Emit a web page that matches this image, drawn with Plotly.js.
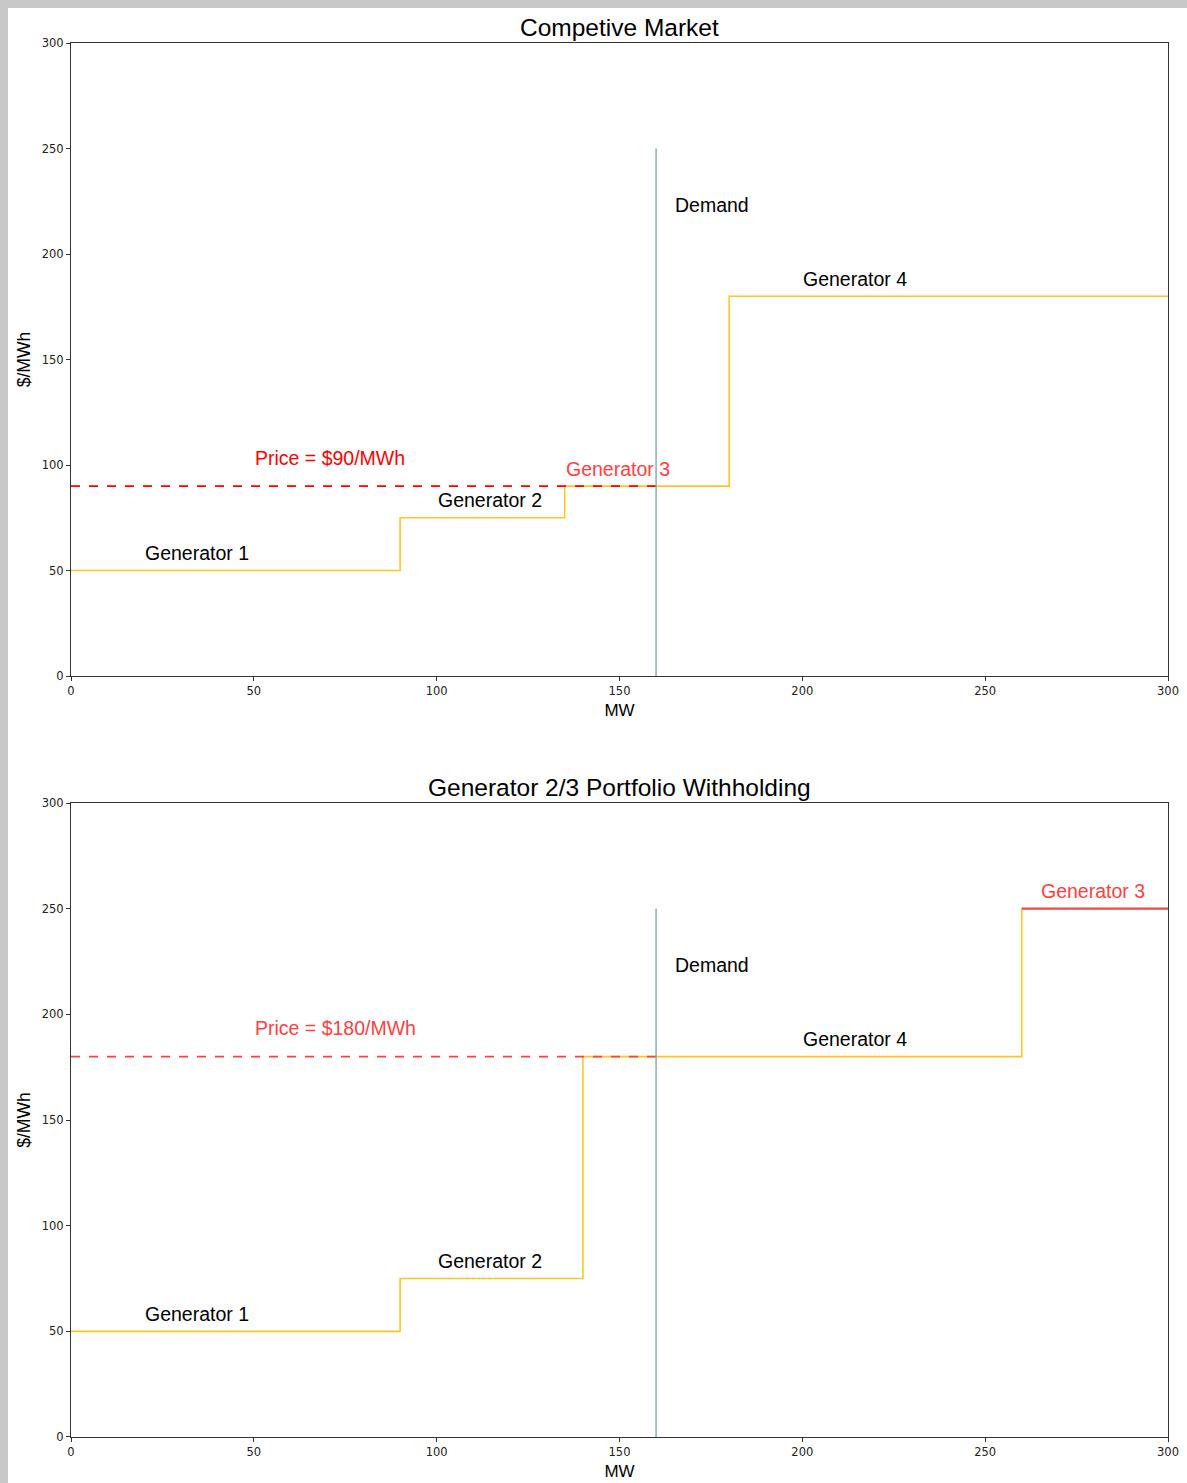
<!DOCTYPE html>
<html>
<head>
<meta charset="utf-8">
<script src="https://cdn.plot.ly/plotly-3.0.1.min.js"></script>
<style>
html,body{margin:0;padding:0;background:#c8c8c8;}
#chart{position:absolute;left:8px;top:8px;width:1179px;height:1475px;background:#fff;}
</style>
</head>
<body>
<div id="chart"></div>
<script>
// Panel 1: competitive market supply curve (step: MW breakpoints, $/MWh)
const comp_mw = [0, 90, 135, 180, 300];
const comp_price = [50, 75, 90, 180, 180];
// Panel 2: withholding supply curve
const with_mw = [0, 90, 140, 260];
const with_price = [50, 75, 180, 250];
const with_gen3_mw = [260, 300];
const with_gen3_price = [250, 250];
// Demand
const demand_mw = 160;
const demand_top = 250;
// Clearing prices
const comp_clear = 90;
const with_clear = 180;
// Labels [text, x, y]
const comp_labels = [["Generator 1", 20, 55], ["Generator 2", 100, 80], ["Generator 3", 135, 95], ["Generator 4", 200, 185], ["Demand", 165, 220], ["Price = $90/MWh", 50, 100]];
const with_labels = [["Generator 1", 20, 55], ["Generator 2", 100, 80], ["Generator 3", 265, 255], ["Generator 4", 200, 185], ["Demand", 165, 220], ["Price = $180/MWh", 50, 190]];
const titles = ["Competive Market", "Generator 2/3 Portfolio Withholding"];
const xTicks = [0, 50, 100, 150, 200, 250, 300];
const yTicks = [0, 50, 100, 150, 200, 250, 300];

const YEL = "#ffc425", TEAL = "#7fa8b0";
const traces = [
  {x: comp_mw, y: comp_price, mode: "lines", line: {shape: "hv", color: YEL, width: 1.6}, xaxis: "x", yaxis: "y"},
  {x: [0, demand_mw], y: [comp_clear, comp_clear], mode: "lines", line: {color: "#ff0000", width: 1.6, dash: "dash"}, xaxis: "x", yaxis: "y"},
  {x: [demand_mw, demand_mw], y: [0, demand_top], mode: "lines", line: {color: TEAL, width: 1.4}, xaxis: "x", yaxis: "y"},
  {x: with_mw, y: with_price, mode: "lines", line: {shape: "hv", color: YEL, width: 1.6}, xaxis: "x2", yaxis: "y2"},
  {x: with_gen3_mw, y: with_gen3_price, mode: "lines", line: {color: "#ff4040", width: 2.2}, xaxis: "x2", yaxis: "y2"},
  {x: [0, demand_mw], y: [with_clear, with_clear], mode: "lines", line: {color: "#ff4040", width: 1.6, dash: "dash"}, xaxis: "x2", yaxis: "y2"},
  {x: [demand_mw, demand_mw], y: [0, demand_top], mode: "lines", line: {color: TEAL, width: 1.4}, xaxis: "x2", yaxis: "y2"}
];

function labelAnn(l, xr, yr, panel) {
  let color = "#000";
  if (l[0].startsWith("Price")) color = panel === 1 ? "#ff0000" : "#ff4040";
  if (l[0] === "Generator 3") color = "#ff4040";
  return {text: l[0], x: l[1], y: l[2], xref: xr, yref: yr, xanchor: "left", yanchor: "bottom",
    showarrow: false, yshift: -6, xshift: -1, font: {family: "Liberation Sans, Arial", size: 19.5, color: color}};
}
const anns = [];
comp_labels.forEach(l => anns.push(labelAnn(l, "x", "y", 1)));
with_labels.forEach(l => anns.push(labelAnn(l, "x2", "y2", 2)));
anns.push({text: titles[0], xref: "paper", yref: "paper", x: 0.5, y: 1, yanchor: "bottom", yshift: 0, showarrow: false,
  font: {family: "Liberation Sans, Arial", size: 24.5, color: "#000"}});
anns.push({text: titles[1], xref: "paper", yref: "paper", x: 0.5, y: 0.4548, yanchor: "bottom", yshift: 0, showarrow: false,
  font: {family: "Liberation Sans, Arial", size: 24.5, color: "#000"}});

function xa(anchor) {
  return {range: [0, 300], tickvals: xTicks, ticks: "outside", ticklen: 4, tickcolor: "#333", showgrid: false, zeroline: false,
    showline: true, mirror: true, linecolor: "#333", linewidth: 1, anchor: anchor,
    tickfont: {family: "DejaVu Sans", size: 11.5, color: "#222"},
    title: {text: "MW", font: {family: "Liberation Sans, Arial", size: 17, color: "#000"}, standoff: 7}};
}
function ya(domain, anchor) {
  return {range: [0, 300], domain: domain, tickvals: yTicks, ticks: "outside", ticklen: 4, tickcolor: "#333", showgrid: false, zeroline: false,
    showline: true, mirror: true, linecolor: "#333", linewidth: 1, anchor: anchor,
    tickfont: {family: "DejaVu Sans", size: 11.5, color: "#222"},
    title: {text: "$/MWh", font: {family: "Liberation Sans, Arial", size: 17.5, color: "#000"}, standoff: 6}};
}
const layout = {
  width: 1179, height: 1475,
  margin: {l: 63, r: 19, t: 35, b: 46},
  paper_bgcolor: "#fff", plot_bgcolor: "#fff",
  showlegend: false,
  xaxis: xa("y"), yaxis: ya([0.5459, 1], "x"),
  xaxis2: xa("y2"), yaxis2: ya([0, 0.4548], "x2"),
  annotations: anns
};
Plotly.newPlot("chart", traces, layout, {displayModeBar: false, staticPlot: true});
</script>
</body>
</html>
